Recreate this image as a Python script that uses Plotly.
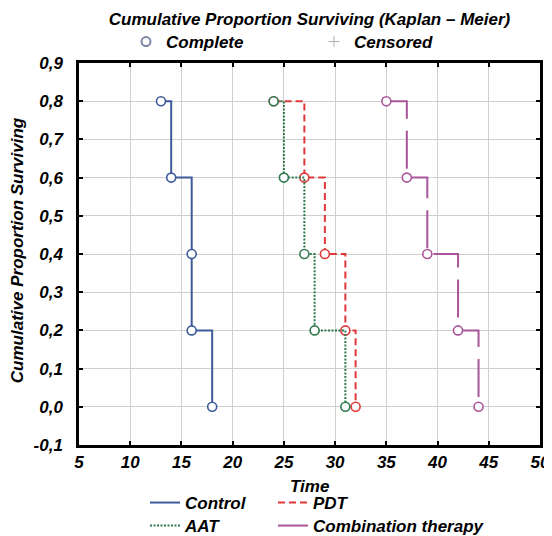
import plotly.graph_objects as go

# ---- data ----
series_names = ["Control", "PDT", "AAT", "Combination therapy"]
control_time = [13, 14, 16, 16, 18]
control_surv = [0.8, 0.6, 0.4, 0.2, 0.0]
pdt_time = [24, 27, 29, 31, 32]
pdt_surv = [0.8, 0.6, 0.4, 0.2, 0.0]
aat_time = [24, 25, 27, 28, 31]
aat_surv = [0.8, 0.6, 0.4, 0.2, 0.0]
combo_time = [35, 37, 39, 42, 44]
combo_surv = [0.8, 0.6, 0.4, 0.2, 0.0]

x_ticks = [5, 10, 15, 20, 25, 30, 35, 40, 45, 50]
y_ticks = [-0.1, 0.0, 0.1, 0.2, 0.3, 0.4, 0.5, 0.6, 0.7, 0.8, 0.9]
y_tick_labels = ["-0,1", "0,0", "0,1", "0,2", "0,3", "0,4", "0,5", "0,6", "0,7", "0,8", "0,9"]

FONT = "Liberation Sans, Arial, sans-serif"

# the page body has an 8px margin; lay out in page pixels and compensate
OFF = 8
FIG_W, FIG_H = 552 - OFF, 536 - OFF


def fnt(size=17):
    return dict(family=FONT, size=size, color="black", weight="bold", style="italic")


styles = {
    "Control": dict(color="#3d5a99", dash="solid", legend="legend", lx=145, ly=503),
    "PDT": dict(color="#e0383a", dash="7px,4px", legend="legend2", lx=273, ly=503),
    "AAT": dict(color="#2e7a4e", dash="2px,1.5px", legend="legend4", lx=145, ly=526),
    "Combination therapy": dict(color="#a9559a", dash="38px,12px", legend="legend5", lx=273, ly=526),
}
data = {
    "Control": (control_time, control_surv),
    "PDT": (pdt_time, pdt_surv),
    "AAT": (aat_time, aat_surv),
    "Combination therapy": (combo_time, combo_surv),
}

# plot-area geometry in page px
L, R, T, B = 79, 540, 63, 445
W, H = R - L, B - T


def px_x(p):
    return (p - L) / W


def px_y(p):
    return (B - p) / H


fig = go.Figure()
for name in series_names:
    t, s = data[name]
    st = styles[name]
    fig.add_trace(go.Scatter(
        x=t, y=s, name=name, mode="lines",
        line=dict(shape="hv", color=st["color"], width=2, dash=st["dash"]),
        legend=st["legend"], cliponaxis=False,
    ))
    fig.add_trace(go.Scatter(
        x=t, y=s, name=name, mode="markers", showlegend=False,
        marker=dict(symbol="circle", size=9, color="white",
                    line=dict(color=st["color"], width=1.6)),
        cliponaxis=False,
    ))

# top legend (marker types)
fig.add_trace(go.Scatter(x=[None], y=[None], mode="markers", name="Complete",
                         marker=dict(symbol="circle", size=9, color="white",
                                     line=dict(color="#7f86a8", width=2)),
                         legend="legend3"))
fig.add_trace(go.Scatter(x=[None], y=[None], mode="markers", name="Censored",
                         marker=dict(symbol="cross-thin", size=8, color="#b0b0b0",
                                     line=dict(color="#b0b0b0", width=1)),
                         legend="legend6"))


def leg(xpx, ypx):
    return dict(orientation="h", xanchor="left", yanchor="middle",
                x=px_x(xpx), y=px_y(ypx),
                bgcolor="rgba(0,0,0,0)", borderwidth=0, font=fnt(17), itemwidth=30)


fig.update_layout(
    width=FIG_W, height=FIG_H,
    margin=dict(l=L - OFF, r=552 - R, t=T - OFF, b=536 - B, autoexpand=False),
    paper_bgcolor="white", plot_bgcolor="white",
    font=fnt(17),
    title=dict(text="Cumulative Proportion Surviving (Kaplan – Meier)",
               x=0.5, xref="paper", xanchor="center",
               y=1 - (19.5 - OFF) / FIG_H, yref="container", yanchor="middle",
               font=fnt(17)),
    legend=leg(styles["Control"]["lx"], styles["Control"]["ly"]),
    legend2=leg(styles["PDT"]["lx"], styles["PDT"]["ly"]),
    legend4=leg(styles["AAT"]["lx"], styles["AAT"]["ly"]),
    legend5=leg(styles["Combination therapy"]["lx"], styles["Combination therapy"]["ly"]),
    legend3=leg(126, 42),
    legend6=leg(314, 42),
    showlegend=True,
)

axis_common = dict(showgrid=True, gridcolor="#cfcfcf", gridwidth=1, zeroline=False,
                   showline=True, linecolor="black", linewidth=2.5, mirror="ticks",
                   ticks="inside", ticklen=4, tickwidth=2, tickcolor="black",
                   tickfont=fnt(17))
fig.update_xaxes(range=[5, 50], tickvals=x_ticks, ticktext=[str(v) for v in x_ticks], **axis_common)
fig.update_yaxes(range=[-0.1, 0.9], tickvals=y_ticks, ticktext=y_tick_labels,
                 ticklabelstandoff=10, **axis_common)

fig.add_annotation(text="Time", xref="paper", yref="paper", x=0.5, y=px_y(486),
                   showarrow=False, xanchor="center", yanchor="middle", font=fnt(17))
fig.add_annotation(text="Cumulative Proportion Surviving", xref="paper", yref="paper",
                   x=px_x(17), y=0.51, textangle=-90, showarrow=False,
                   xanchor="center", yanchor="middle", font=fnt(17))

fig.write_html("out.html")
